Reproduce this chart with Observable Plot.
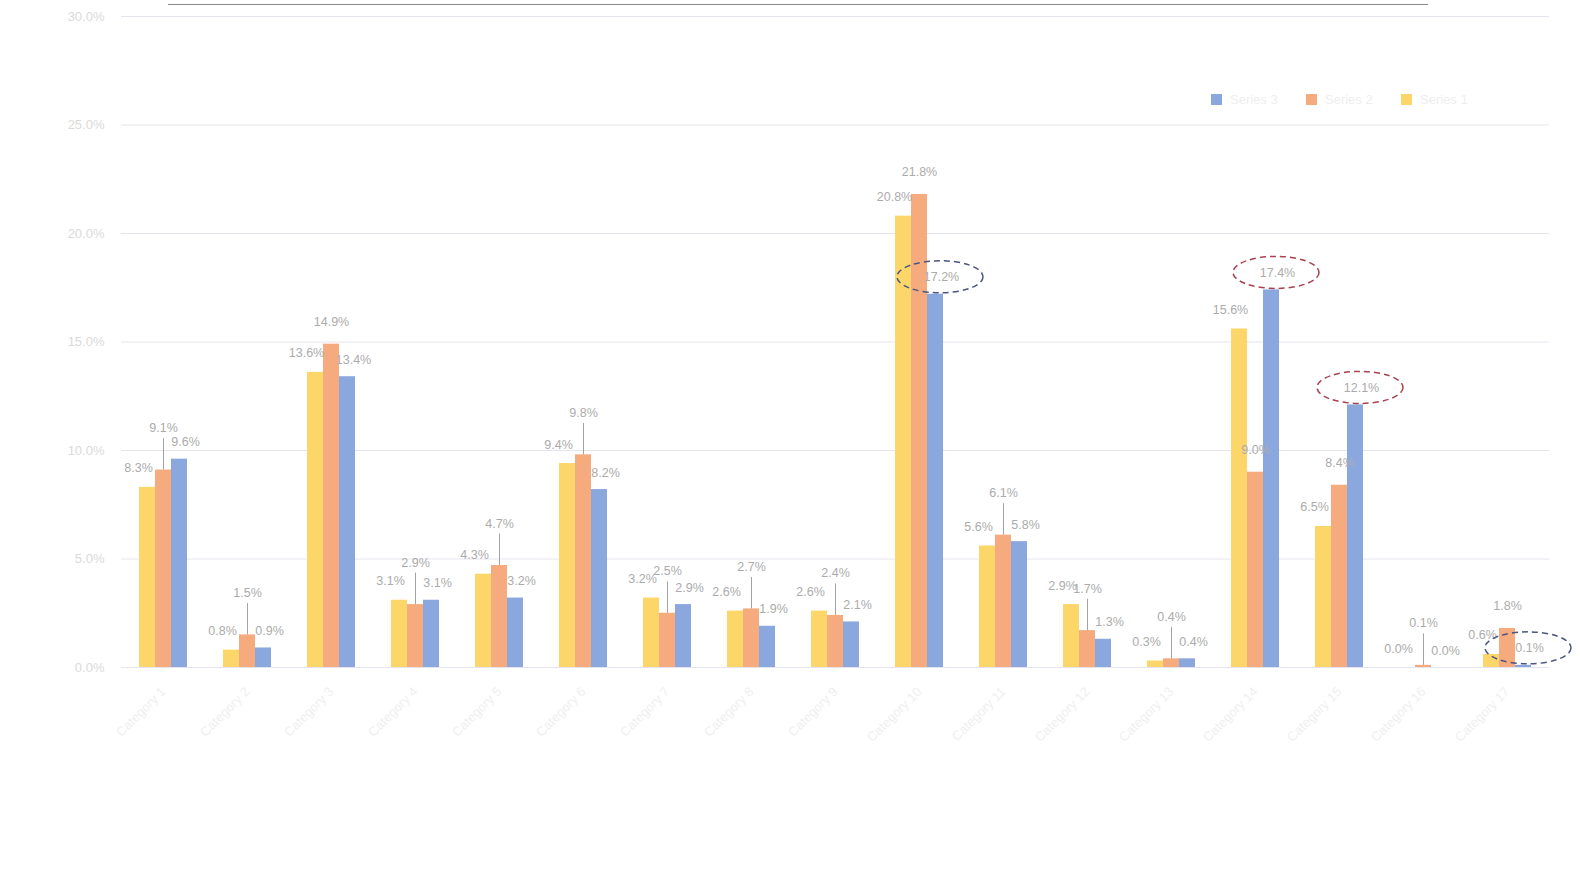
<!DOCTYPE html>
<html>
<head>
<meta charset="utf-8">
<script src="https://cdn.jsdelivr.net/npm/d3@7"></script>
<script src="https://cdn.jsdelivr.net/npm/@observablehq/plot@0.6"></script>
<style>
  html, body { margin: 0; padding: 0; background: #ffffff; }
  #wrap { position: relative; width: 1580px; height: 873px; overflow: hidden; font-family: "Liberation Sans", Arial, sans-serif; }
  #topline { position: absolute; left: 168px; top: 4px; width: 1260px; height: 0; border-top: 1.5px solid #8a8a8a; }
  #legend { position: absolute; top: 92px; left: 1211px; display: flex; gap: 0; font-size: 13px; color: #eeeeee; }
  #legend .item { display: flex; align-items: center; width: 95px; }
  #legend .sw { width: 11px; height: 11px; margin-right: 8px; }
</style>
</head>
<body>
<div id="wrap">
  <div id="chart"></div>
  <div id="topline"></div>
  <div id="legend"></div>
</div>
<script>
// ---- data ----
const categories = ["Category 1","Category 2","Category 3","Category 4","Category 5","Category 6","Category 7","Category 8","Category 9","Category 10","Category 11","Category 12","Category 13","Category 14","Category 15","Category 16","Category 17"];
const seriesNames = ["Series 1", "Series 2", "Series 3"];
const series1 = [8.3, 0.8, 13.6, 3.1, 4.3, 9.4, 3.2, 2.6, 2.6, 20.8, 5.6, 2.9, 0.3, 15.6, 6.5, 0.0, 0.6];
const series2 = [9.1, 1.5, 14.9, 2.9, 4.7, 9.8, 2.5, 2.7, 2.4, 21.8, 6.1, 1.7, 0.4, 9.0, 8.4, 0.1, 1.8];
const series3 = [9.6, 0.9, 13.4, 3.1, 3.2, 8.2, 2.9, 1.9, 2.1, 17.2, 5.8, 1.3, 0.4, 17.4, 12.1, 0.0, 0.1];
const yTicks = [0, 5, 10, 15, 20, 25, 30];
const legendOrder = ["Series 3", "Series 2", "Series 1"];
// highlighted (circled) labels: category + series
const highlighted = [
  {category: "Category 10", series: "Series 3", ring: "#4a5580"},
  {category: "Category 14", series: "Series 3", ring: "#a8404e"},
  {category: "Category 15", series: "Series 3", ring: "#a8404e"},
  {category: "Category 17", series: "Series 3", ring: "#4a5580"}
];
const colors = ["#fdd66a", "#f5ab7d", "#8ba8de"];

const allSeries = [series1, series2, series3];
const data = categories.flatMap((c, i) => seriesNames.map((s, j) => ({category: c, series: s, value: allSeries[j][i], idx: i})));
const fmt = d => d.toFixed(1) + "%";

const labelDx = {"Series 1": -9, "Series 2": 0, "Series 3": 6};
const labelDy = {"Series 1": -19, "Series 2": -22, "Series 3": -17};

// middle-series labels that crowd their neighbours are lifted with a leader line
const crowded = d => d.series === "Series 2" &&
  Math.min(Math.abs(d.value - series1[d.idx]), Math.abs(d.value - series3[d.idx])) < 1.0;
const normalLabels = data.filter(d => !crowded(d));
const liftedLabels = data.filter(crowded);

const marginLeft = 118;
const plot = Plot.plot({
  width: 1580,
  height: 873,
  marginTop: 16,
  marginBottom: 206,
  marginLeft,
  marginRight: 28,
  style: {fontFamily: "'Liberation Sans', Arial, sans-serif", fontSize: "13px", background: "transparent", color: "#dadada"},
  fx: {domain: categories, padding: 0, label: null, tickRotate: -45, tickSize: 0, tickPadding: 22},
  x: {domain: seriesNames, paddingInner: 0, paddingOuter: 1.06, axis: null},
  y: {domain: [0, 30], ticks: yTicks, tickFormat: fmt, label: null, tickSize: 0, tickPadding: 17},
  color: {domain: seriesNames, range: colors},
  marks: [
    Plot.ruleY(yTicks, {stroke: "#e4e4ee", strokeWidth: 1}),
    Plot.barY(data, {fx: "category", x: "series", y: "value", fill: "series"}),
    Plot.ruleX(liftedLabels, {fx: "category", x: "series", y1: "value", y2: d => d.value + 1.45, stroke: "#8c8c8c", strokeWidth: 0.8}),
    ...seriesNames.map(s => Plot.text(normalLabels.filter(d => d.series === s), {
      fx: "category", x: "series", y: "value", text: d => fmt(d.value),
      dy: labelDy[s], dx: labelDx[s], fill: "#ababab", fontSize: 12.5
    })),
    Plot.text(liftedLabels, {
      fx: "category", x: "series", y: "value", text: d => fmt(d.value),
      dy: -42, fill: "#ababab", fontSize: 12.5
    })
  ]
});

document.getElementById("chart").appendChild(plot);

// lighten category tick labels
const svg = d3.select(plot);
svg.selectAll('g[aria-label^="fx-axis"] text').attr("fill", "#efefef");

// ellipses around highlighted labels, positioned with the plot's own scales
const fxS = plot.scale("fx"), xS = plot.scale("x"), yS = plot.scale("y");
const xBand = xS.bandwidth || 0;
const xOrigin = Math.min(...xS.range);
const ringG = svg.append("g");
for (const h of highlighted) {
  const v = data.find(d => d.category === h.category && d.series === h.series).value;
  const cx = fxS.apply(h.category) + (xS.apply(h.series) - xOrigin) + xBand / 2 + 5;
  const cy = yS.apply(v) + labelDy[h.series];
  ringG.append("ellipse")
    .attr("cx", cx).attr("cy", cy).attr("rx", 43).attr("ry", 16)
    .attr("fill", "none").attr("stroke", h.ring).attr("stroke-width", 1.5)
    .attr("stroke-dasharray", "6,4");
}

// legend
const lg = document.getElementById("legend");
for (const s of legendOrder) {
  const it = document.createElement("div"); it.className = "item";
  const sw = document.createElement("div"); sw.className = "sw"; sw.style.background = colors[seriesNames.indexOf(s)];
  const tx = document.createElement("span"); tx.textContent = s;
  it.appendChild(sw); it.appendChild(tx); lg.appendChild(it);
}
</script>
</body>
</html>
